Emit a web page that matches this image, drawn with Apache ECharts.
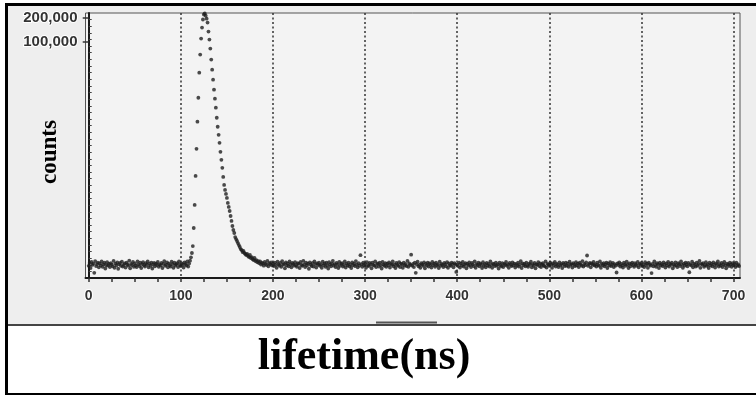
<!DOCTYPE html>
<html>
<head>
<meta charset="utf-8">
<script src="https://cdn.jsdelivr.net/npm/echarts/dist/echarts.min.js"></script>
<style>
  html, body { margin: 0; padding: 0; background: #ffffff; }
  #chart { width: 756px; height: 396px; }
</style>
</head>
<body>
<div id="chart"></div>
<script>
// Decay histogram: one count per 1 ns time bin, starting at 0 ns.
const binStartNs = 0;
const binWidthNs = 1;

const counts = [
  148,161,139,166,152,158,121,170,147,156,163,142,159,150,168,144,155,162,137,151,165,149,157,143,160,
  153,146,171,140,158,150,164,136,155,161,148,167,145,152,159,141,163,154,149,172,138,157,151,166,144,
  159,150,143,169,155,147,162,139,156,165,151,145,160,153,168,142,157,149,163,137,154,161,146,158,152,
  166,144,155,150,161,139,157,170,148,153,164,142,158,151,145,167,156,140,162,149,155,160,143,168,152,
  147,159,153,141,164,156,150,169,145,158,172,190,215,263,445,870,2026,4450,9790,19660,40790,68940,109800,151400,191200,
  221100,228000,214000,196000,175100,134700,106700,82100,59570,44500,33240,24850,19110,14710,10980,8453,6692,5302,4078,3229,2558,1968,1558,1348,1199,
  1067,922,821,730,631,546,472,420,385,342,323,305,287,271,256,241,234,221,228,215,209,203,209,197,191,
  203,186,191,180,175,186,170,175,165,170,160,168,154,163,158,149,166,157,152,171,146,160,155,164,150,
  158,147,163,152,140,167,155,149,161,144,170,153,157,138,164,150,159,146,168,154,142,161,156,149,165,
  151,144,160,157,139,166,152,148,171,155,143,162,150,158,136,164,153,147,160,145,169,156,141,159,152,
  163,148,155,140,167,151,159,144,162,150,137,165,154,146,158,171,149,156,143,161,153,139,166,148,157,
  160,145,152,168,141,157,150,163,146,155,139,164,151,158,147,170,153,142,160,149,202,156,144,162,151,
  157,140,165,150,147,161,154,138,163,152,149,168,143,156,159,145,162,151,137,166,153,148,160,144,158,
  150,164,141,157,153,169,146,155,139,161,152,148,165,143,158,154,140,163,150,156,147,171,144,159,152,
  205,149,157,143,162,121,155,167,146,152,140,160,154,148,164,138,157,150,163,145,159,153,141,166,151,
  158,144,162,150,155,139,167,148,157,152,143,161,154,146,165,140,159,151,148,163,156,142,160,153,124,
  155,147,163,141,158,150,166,145,153,160,138,157,149,164,152,143,161,155,147,169,140,156,151,162,146,
  159,153,139,165,148,156,142,161,150,157,145,168,152,140,158,154,147,163,149,155,137,162,151,146,160,
  143,157,152,166,148,155,140,161,153,147,164,150,158,141,156,149,162,145,154,170,139,159,151,157,146,
  163,150,144,158,153,167,142,156,149,161,138,155,152,165,147,159,143,154,160,150,146,168,141,157,153,
  148,162,155,140,159,151,166,145,157,152,143,164,150,156,139,161,154,147,163,149,158,144,167,152,156,
  141,160,153,147,165,150,158,143,162,155,149,170,145,157,151,164,200,148,156,161,142,159,153,166,150,
  155,145,163,152,148,168,140,157,151,160,146,154,162,139,158,150,165,147,153,161,143,156,149,122,159,
  152,164,145,157,150,141,162,155,148,167,153,139,159,146,156,163,151,144,160,154,149,166,142,157,152,
  161,147,155,143,165,151,158,140,163,154,149,120,157,146,168,152,144,160,155,139,162,150,156,147,164,
  153,141,159,150,166,145,157,152,162,138,155,148,164,151,143,160,156,147,169,153,140,158,149,163,154,
  146,161,123,155,150,167,142,158,152,145,163,149,156,171,140,157,153,160,144,151,165,148,155,139,162,
  150,157,146,164,153,141,159,152,168,145,156,149,161,143,155,166,150,138,158,153,147,162,154,144,160,
  151,157,143,163,149,155,147
];

// Axis ranges and tick labels
const timeRangeNs = [-3.5, 707];
const timeTickLabels = [0, 100, 200, 300, 400, 500, 600, 700];
const timeGridLines = [100, 200, 300, 400, 500, 600, 700];
const timeTickStep = 25;
const countRange = [104, 231000];   // log-scaled counts axis
const countTickLabels = [100000, 200000];
const countMinorTickCount = 40;

const log10 = Math.log10;
const yMin = log10(countRange[0]);
const yMax = log10(countRange[1]);

const points = counts.map((c, i) => [binStartNs + i * binWidthNs, log10(c)]);

const timeTicks = [];
for (let t = 0; t <= 700; t += timeTickStep) timeTicks.push(t);
const minorCountTicks = [];
for (let k = 1; k < countMinorTickCount; k++) {
  minorCountTicks.push(yMin + (yMax - yMin) * k / countMinorTickCount);
}

const labelFont = {
  fontFamily: '"Liberation Sans", Arial, sans-serif',
  fontWeight: 'bold',
  color: '#333333',
  textBorderColor: '#ffffff',
  textBorderWidth: 2
};

const chart = echarts.init(document.getElementById('chart'), null, { renderer: 'canvas' });

chart.setOption({
  animation: false,
  backgroundColor: '#ffffff',
  grid: {
    left: 85.5, top: 13, right: 16, bottom: 118,
    show: true,
    backgroundColor: '#f3f3f3',
    borderColor: '#555555',
    borderWidth: 1
  },
  xAxis: [
    {
      type: 'value',
      position: 'bottom',
      min: timeRangeNs[0],
      max: timeRangeNs[1],
      axisLine: { show: true, lineStyle: { color: '#1a1a1a', width: 2 } },
      axisTick: { show: true, length: 4, customValues: timeTicks, lineStyle: { color: '#333333', width: 1.5 } },
      axisLabel: Object.assign({ fontSize: 14, margin: 11, customValues: timeTickLabels }, labelFont),
      splitLine: { show: false }
    },
    {
      type: 'value',
      position: 'bottom',
      min: timeRangeNs[0],
      max: timeRangeNs[1],
      axisLine: { show: false },
      axisLabel: { show: false },
      axisTick: { show: false, customValues: timeGridLines },
      splitLine: { show: true, lineStyle: { color: '#333333', width: 1.5, type: [2, 2.5] } }
    }
  ],
  yAxis: [
    {
      type: 'value',
      position: 'left',
      min: yMin,
      max: yMax,
      axisLine: { show: true, lineStyle: { color: '#1a1a1a', width: 2 } },
      axisTick: { show: true, length: 6, customValues: countTickLabels.map(log10), lineStyle: { color: '#333333', width: 1.5 } },
      axisLabel: Object.assign({
        fontSize: 15,
        margin: 8,
        customValues: countTickLabels.map(log10),
        formatter: v => Math.round(Math.pow(10, v)).toLocaleString('en-US')
      }, labelFont),
      splitLine: { show: false }
    },
    {
      type: 'value',
      position: 'left',
      min: yMin,
      max: yMax,
      axisLine: { show: false },
      axisLabel: { show: false },
      splitLine: { show: false },
      axisTick: { show: true, inside: true, length: 3, customValues: minorCountTicks, lineStyle: { color: '#444444', width: 1 } }
    }
  ],
  series: [{
    type: 'scatter',
    xAxisIndex: 0,
    yAxisIndex: 0,
    data: points,
    symbol: 'circle',
    symbolSize: 3.8,
    itemStyle: { color: '#1e1e1e' },
    silent: true
  }],
  graphic: [
    { type: 'rect', z: -10, shape: { x: 8, y: 6, width: 748, height: 318 }, style: { fill: '#eeeeee' } },
    { type: 'line', z: 100, shape: { x1: 6.5, y1: 4.5, x2: 756, y2: 4.5 }, style: { stroke: '#000000', lineWidth: 3 } },
    { type: 'line', z: 100, shape: { x1: 6.5, y1: 3, x2: 6.5, y2: 395 }, style: { stroke: '#000000', lineWidth: 3 } },
    { type: 'line', z: 100, shape: { x1: 5, y1: 394, x2: 756, y2: 394 }, style: { stroke: '#000000', lineWidth: 2 } },
    { type: 'line', z: 100, shape: { x1: 8, y1: 325, x2: 756, y2: 325 }, style: { stroke: '#444444', lineWidth: 2 } },
    { type: 'line', z: 100, shape: { x1: 376, y1: 322.5, x2: 437, y2: 322.5 }, style: { stroke: '#555555', lineWidth: 2 } },
    {
      type: 'text', z: 100, x: 50, y: 152, rotation: Math.PI / 2,
      style: {
        text: 'counts', x: 0, y: 0,
        align: 'center', verticalAlign: 'middle', textAlign: 'center', textVerticalAlign: 'middle',
        font: 'bold 23px "Liberation Serif", "Times New Roman", serif', fill: '#000000'
      }
    },
    {
      type: 'text', z: 100, x: 364, y: 358,
      style: {
        text: 'lifetime(ns)', x: 0, y: 0,
        align: 'center', verticalAlign: 'middle', textAlign: 'center', textVerticalAlign: 'middle',
        font: 'bold 44px "Liberation Serif", "Times New Roman", serif', fill: '#000000'
      }
    }
  ]
});
</script>
</body>
</html>
